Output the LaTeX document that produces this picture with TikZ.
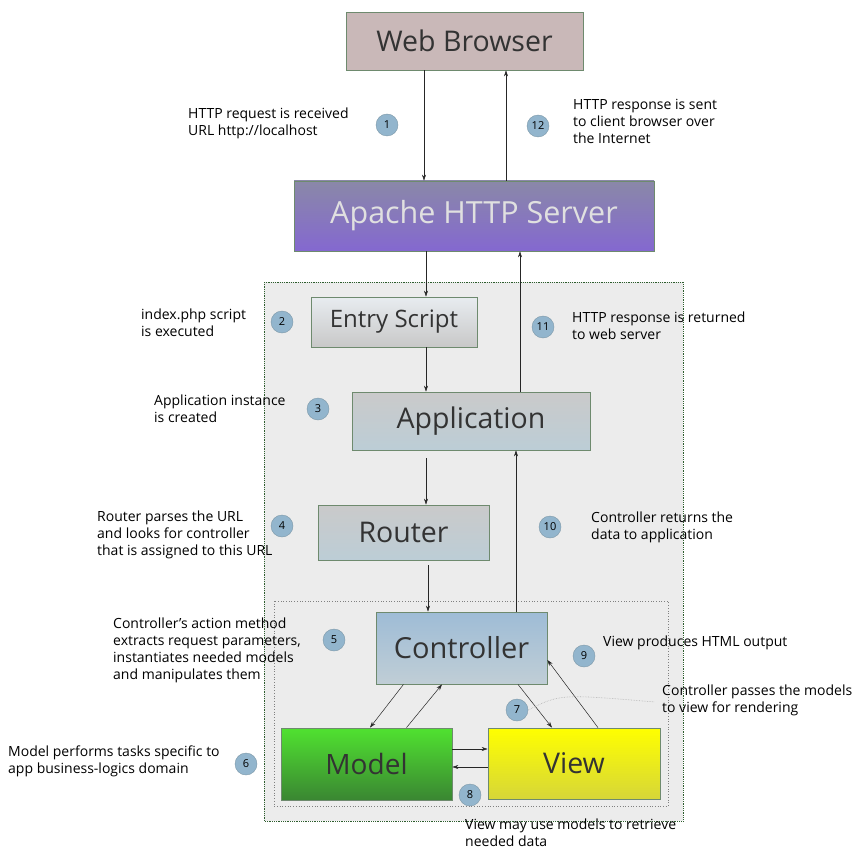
\documentclass[tikz,border=0pt]{standalone}
\usepackage{fontspec}
\setmainfont{Open Sans}
\usetikzlibrary{arrows.meta}

\definecolor{boxedge}{HTML}{6E8A6E}
\definecolor{textgrey}{HTML}{333333}
\definecolor{browserfill}{HTML}{C9B8B8}
\definecolor{numfill}{HTML}{92B5CD}
\definecolor{numedge}{HTML}{7D98A8}
\definecolor{framefill}{HTML}{ECECEC}
\definecolor{frameedge}{HTML}{2E5E2E}

\tikzset{
  box/.style={draw=boxedge, line width=0.8pt, inner sep=0pt, text=textgrey},
  num/.style={circle, draw=numedge, fill=numfill, minimum size=22pt, inner sep=0pt,
    font=\fontsize{11}{11}\selectfont},
  note/.style={anchor=north west, align=left, inner sep=0pt, text=black,
    font=\fontsize{14}{17}\selectfont},
  link/.style={-{Stealth[length=6pt,width=4pt]}, line width=0.5pt, black!85}
}

\begin{document}
\begin{tikzpicture}[x=1pt, y=-1pt]
\useasboundingbox (0,0) rectangle (858,850);

% frames
\draw[frameedge, densely dotted, fill=framefill, line width=0.8pt] (264,282) rectangle (683,821);
\draw[gray, dotted, line width=0.7pt] (274,601) rectangle (668,806);

% blocks
\node[box, fill=browserfill, minimum width=237pt, minimum height=58pt,
  font=\fontsize{28.5}{28.5}\selectfont] (browser) at (464.5,41) {Web Browser};
\node[box, top color={rgb,255:red,138;green,136;blue,168}, bottom color={rgb,255:red,132;green,104;blue,208},
  minimum width=360pt, minimum height=70pt, text=black!12,
  font=\fontsize{30.5}{30.5}\selectfont] (apache) at (474,216) {Apache HTTP Server};
\node[box, top color={rgb,255:red,232;green,236;blue,240}, bottom color={rgb,255:red,200;green,200;blue,200},
  minimum width=166pt, minimum height=50pt,
  font=\fontsize{24}{24}\selectfont] (entry) at (394,322) {Entry Script};
\node[box, top color={rgb,255:red,202;green,202;blue,202}, bottom color={rgb,255:red,188;green,205;blue,214},
  minimum width=238pt, minimum height=58pt,
  font=\fontsize{28.5}{28.5}\selectfont] (app) at (471,421) {Application};
\node[box, top color={rgb,255:red,202;green,202;blue,202}, bottom color={rgb,255:red,188;green,205;blue,214},
  minimum width=171pt, minimum height=55pt,
  font=\fontsize{28.5}{28.5}\selectfont] (router) at (403.5,532.5) {Router};
\node[box, top color={rgb,255:red,158;green,188;blue,214}, bottom color={rgb,255:red,192;green,206;blue,214},
  minimum width=171pt, minimum height=72pt,
  font=\fontsize{29}{29}\selectfont] (ctrl) at (461.5,648) {Controller};
\node[box, top color={rgb,255:red,80;green,226;blue,48}, bottom color={rgb,255:red,58;green,134;blue,50},
  minimum width=171pt, minimum height=72pt,
  font=\fontsize{28}{28}\selectfont] (model) at (366.5,764) {Model};
\node[box, top color={rgb,255:red,255;green,255;blue,0}, bottom color={rgb,255:red,214;green,214;blue,56},
  minimum width=172pt, minimum height=71pt,
  font=\fontsize{28.5}{28.5}\selectfont] (view) at (574,763.5) {View};

% flow
\draw[link] ([xshift=-40.5pt]browser.south) -- ([xshift=-40.5pt]browser.south |- apache.north);
\draw[link] ([xshift=32pt]apache.north) -- ([xshift=32pt]apache.north |- browser.south);
\draw[link] ([xshift=-48pt]apache.south) -- ([xshift=-48pt]apache.south |- entry.north);
\draw[link] ([xshift=32pt]entry.south) -- ([xshift=32pt]entry.south |- app.north);
\draw[link] ([xshift=49pt]app.north) -- ([xshift=49pt]app.north |- apache.south);
\draw[link] ([xshift=-45pt,yshift=-8pt]app.south) -- ([xshift=-45pt]app.south |- router.north);
\draw[link] ([xshift=54.5pt]ctrl.north) -- ([xshift=54.5pt]ctrl.north |- app.south);
\draw[link] ([xshift=24.5pt,yshift=-5pt]router.south) -- ([xshift=24.5pt]router.south |- ctrl.north);
\draw[link] ([xshift=-58pt]ctrl.south) -- ([xshift=3.5pt]model.north);
\draw[link] ([xshift=40pt]model.north) -- ([xshift=-19.5pt]ctrl.south);
\draw[link] ([xshift=56.5pt]ctrl.south) -- ([xshift=-22pt]view.north);
\draw[link] ([xshift=24pt]view.north) -- ([yshift=-12pt]ctrl.east);
\draw[link] ([yshift=15pt]model.east) -- ([yshift=15pt]model.east -| view.west);
\draw[link] ([yshift=-3.5pt]view.west) -- ([yshift=-3.5pt]view.west -| model.east);

% steps
\node[num] (n1) at (387,125) {1};
\node[num] (n12) at (538,126) {12};
\node[num] (n2) at (282,322) {2};
\node[num] (n11) at (543,327) {11};
\node[num] (n3) at (318,409) {3};
\node[num] (n4) at (282,526) {4};
\node[num] (n10) at (550,527) {10};
\node[num] (n5) at (334,640) {5};
\node[num] (n9) at (584,656) {9};
\node[num] (n7) at (517,710) {7};
\node[num] (n6) at (246,764) {6};
\node[num] (n8) at (470,795) {8};

% remarks
\node[note] (t1) at (188,108) {HTTP request is received\\URL http://localhost};
\node[note] (t12) at (573,99) {HTTP response is sent\\to client browser over\\the Internet};
\node[note] (t2) at (141,309) {index.php script\\is executed};
\node[note] (t11) at (572,312) {HTTP response is returned\\to web server};
\node[note] (t3) at (154,395) {Application instance\\is created};
\node[note] (t4) at (97,511) {Router parses the URL\\and looks for controller\\that is assigned to this URL};
\node[note] (t10) at (591,512) {Controller returns the\\data to application};
\node[note] (t5) at (113,618) {Controller's action method\\extracts request parameters,\\instantiates needed models\\and manipulates them};
\node[note] (t9) at (603,636) {View produces HTML output};
\node[note] (t7) at (662,685) {Controller passes the models\\to view for rendering};
\node[note] (t6) at (8,746) {Model performs tasks specific to\\app business-logics domain};
\node[note] (t8) at (465,819) {View may use models to retrieve\\needed data};

\coordinate (c7) at (655,702);
\draw[gray!60, densely dotted, line width=0.6pt] (n7.east) .. controls (560,694) .. (c7);

\end{tikzpicture}
\end{document}
